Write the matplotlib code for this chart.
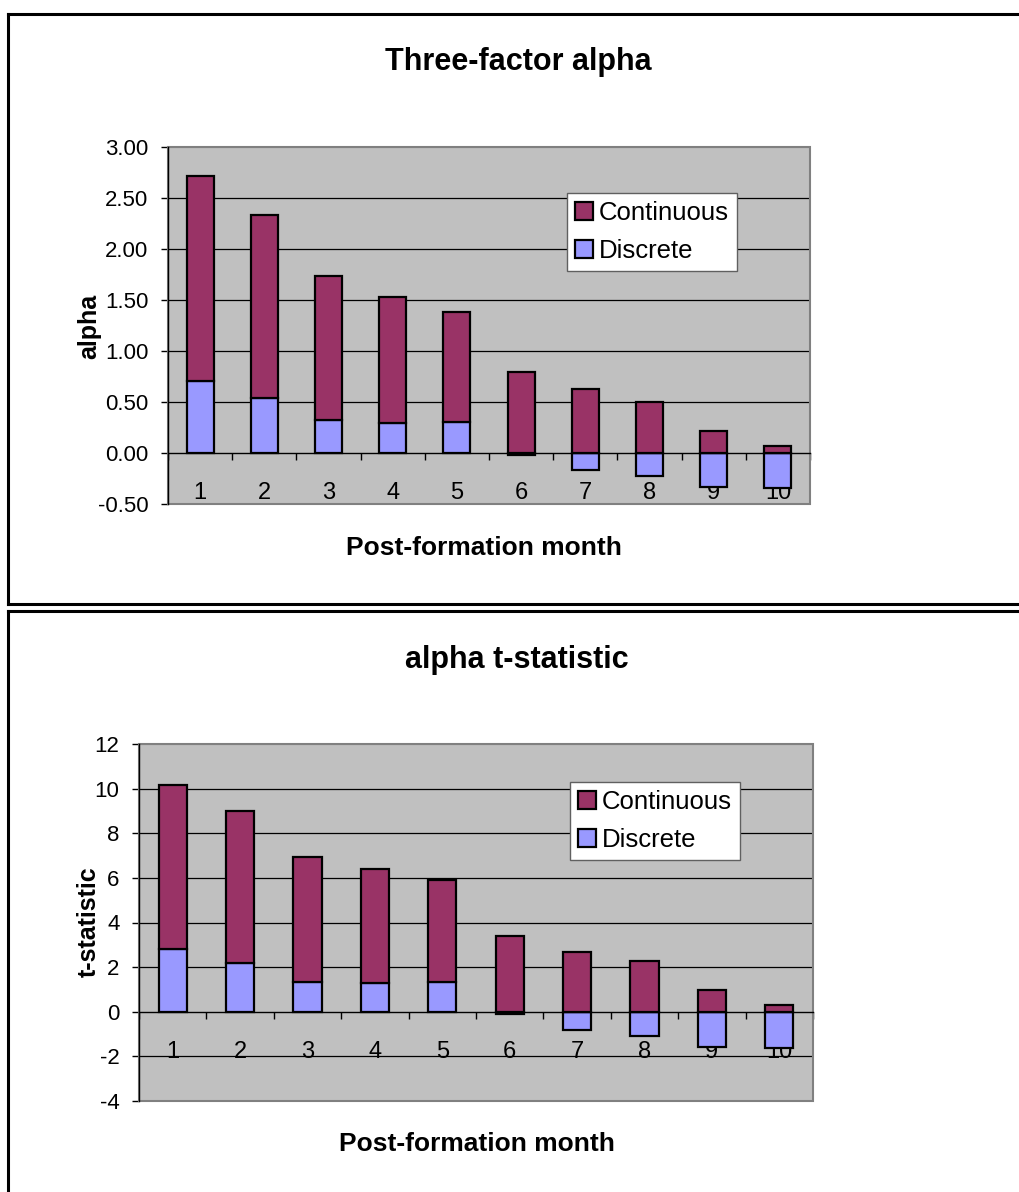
import matplotlib
matplotlib.use("Agg")
import matplotlib.pyplot as plt
from matplotlib.patches import Patch, Rectangle
from matplotlib.lines import Line2D
import numpy as np

plt.rcParams['font.family'] = ['Liberation Sans', 'DejaVu Sans']

months = [1, 2, 3, 4, 5, 6, 7, 8, 9, 10]
month_labels = ["1", "2", "3", "4", "5", "6", "7", "8", "9", "10"]

# Three-factor alpha components
alpha_discrete = [0.71, 0.535, 0.32, 0.29, 0.30, -0.02, -0.17, -0.225, -0.33, -0.345]
alpha_continuous = [2.01, 1.80, 1.42, 1.24, 1.085, 0.79, 0.63, 0.50, 0.215, 0.065]

# alpha t-statistic components
t_discrete = [2.82, 2.20, 1.32, 1.28, 1.34, -0.10, -0.80, -1.08, -1.59, -1.62]
t_continuous = [7.33, 6.80, 5.63, 5.11, 4.56, 3.40, 2.70, 2.26, 0.97, 0.30]

series_names = ["Continuous", "Discrete"]
color_cont = "#993366"
color_disc = "#9999FF"

W, H = 1019, 1192
fig = plt.figure(figsize=(W / 100, H / 100), dpi=100)


def fx(x):
    return x / W


def fy(y):
    return 1 - y / H


def panel(box, disc, cont, ylim, yticks, fmt, title, ylabel, title_xy, xlabel_xy, ylabel_xy, legend_xy):
    l, t, r, b = box
    ax = fig.add_axes([fx(l), fy(b), fx(r) - fx(l), fy(t) - fy(b)])
    ax.set_facecolor("#C0C0C0")
    x = np.array(months)
    disc = np.array(disc)
    cont = np.array(cont)
    bw = 0.42
    ax.bar(x, disc, width=bw, color=color_disc, edgecolor="black", linewidth=1.6, zorder=3)
    ax.bar(x, cont, width=bw, bottom=np.maximum(disc, 0), color=color_cont,
           edgecolor="black", linewidth=1.6, zorder=3)
    ax.set_xlim(0.5, 10.5)
    ax.set_ylim(*ylim)
    ax.set_yticks(yticks)
    ax.set_yticklabels([fmt.format(v) for v in yticks])
    for v in yticks:
        if v not in (ylim[0], ylim[1], 0):
            ax.axhline(v, color="black", linewidth=0.9, zorder=1)
    ax.axhline(ylim[1], color="#808080", linewidth=1.5, zorder=1)
    # spines
    for s in ("top", "right"):
        ax.spines[s].set_visible(False)
    ax.spines["left"].set_color("black")
    ax.spines["left"].set_linewidth(1.0)
    ax.spines["bottom"].set_position(("data", 0))
    ax.spines["bottom"].set_color("black")
    ax.spines["bottom"].set_linewidth(1.0)
    ax.spines["bottom"].set_zorder(4)
    ax.add_patch(Rectangle((0, 0), 1, 1, transform=ax.transAxes, fill=False,
                           edgecolor="#808080", linewidth=1.5, zorder=2, clip_on=False))
    ax.tick_params(axis="y", direction="out", length=5, width=1, labelsize=16, pad=9, colors="black")
    ax.set_xticks(np.arange(0.5, 11, 1.0))
    ax.set_xticklabels([])
    ax.tick_params(axis="x", which="major", direction="out", length=5, width=1, color="black")
    ax.set_xticks(x, minor=True)
    ax.set_xticklabels(month_labels, minor=True)
    ax.tick_params(axis="x", which="minor", length=0, labelsize=17, pad=21)

    handles = [Patch(facecolor=color_cont, edgecolor="black", linewidth=1.6),
               Patch(facecolor=color_disc, edgecolor="black", linewidth=1.6)]
    leg = ax.legend(handles, series_names, loc="upper left",
                    bbox_to_anchor=(fx(legend_xy[0]), fy(legend_xy[1])),
                    bbox_transform=fig.transFigure, fontsize=18.5, frameon=True,
                    fancybox=False, framealpha=1, edgecolor="#606060",
                    handlelength=0.7, handleheight=0.7, handletextpad=0.25,
                    labelspacing=0.55, borderpad=0.3, borderaxespad=0)
    leg.get_frame().set_linewidth(1.0)

    fig.text(fx(title_xy[0]), fy(title_xy[1]), title, ha="center", va="center",
             fontsize=22, fontweight="bold")
    fig.text(fx(xlabel_xy[0]), fy(xlabel_xy[1]), "Post-formation month", ha="center",
             va="center", fontsize=19, fontweight="bold")
    fig.text(fx(ylabel_xy[0]), fy(ylabel_xy[1]), ylabel, ha="center", va="center",
             rotation=90, fontsize=18, fontweight="bold")
    return ax


panel((168, 147, 810, 504), alpha_discrete, alpha_continuous, (-0.5, 3.0),
      [-0.5, 0.0, 0.5, 1.0, 1.5, 2.0, 2.5, 3.0], "{:.2f}", "Three-factor alpha", "alpha",
      (518, 62), (484, 548), (89, 326), (567, 193))

panel((139, 744, 813, 1101), t_discrete, t_continuous, (-4, 12),
      [-4, -2, 0, 2, 4, 6, 8, 10, 12], "{:d}", "alpha t-statistic", "t-statistic",
      (517, 660), (477, 1144), (89, 922), (570, 782))

# panel borders
lw = 2.2
def line(x0, y0, x1, y1):
    fig.add_artist(Line2D([fx(x0), fx(x1)], [fy(y0), fy(y1)], color="black", linewidth=lw))

line(8, 14, W + 5, 14)
line(8, 14, 8, 604)
line(8, 604, W + 5, 604)
line(8, 611, W + 5, 611)
line(8, 611, 8, H + 5)

fig.savefig("out.png", dpi=100, facecolor="white")
